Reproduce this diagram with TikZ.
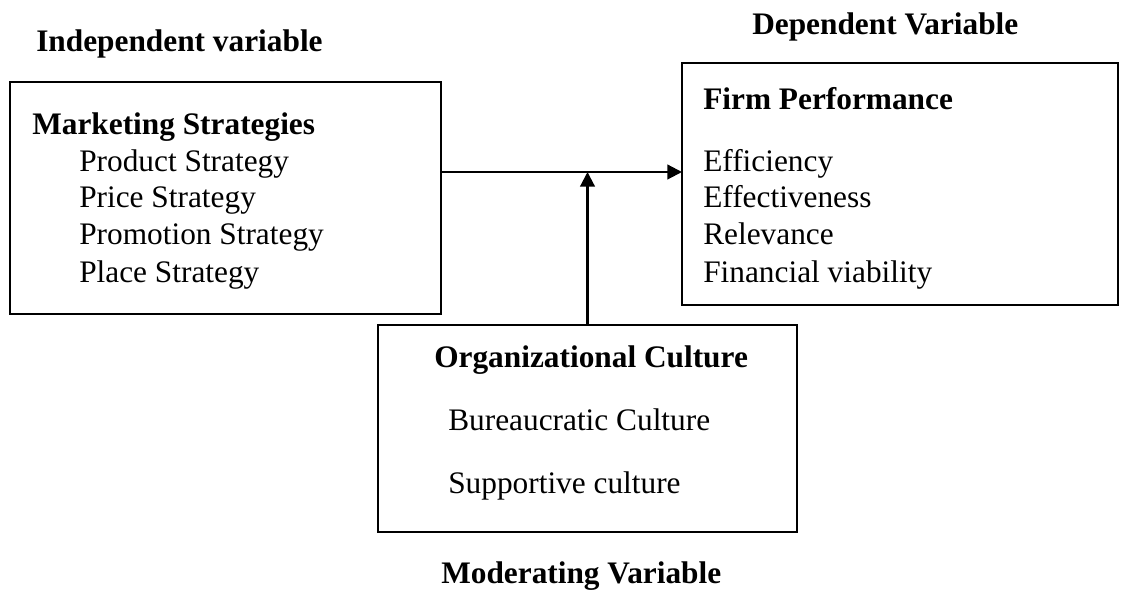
\documentclass[tikz,border=0pt]{standalone}
\usepackage{fontspec}
\setmainfont{Liberation Serif}
\usetikzlibrary{arrows.meta}
\begin{document}
\begin{tikzpicture}[x=0.75pt,y=-0.75pt,
  box/.style={draw,line width=1.6pt,inner sep=0pt,outer sep=0pt,rectangle},
  txt/.style={anchor=base west,inner sep=0pt,font=\fontsize{23.5}{28}\selectfont},
  head/.style={txt,font=\fontsize{23.5}{28}\selectfont\bfseries},
  link/.style={line width=1.6pt,-{Triangle[length=11pt,width=11pt]}}]
\clip (0,0) rectangle (1123,591);
\useasboundingbox (0,0) rectangle (1123,591);

% variable headings
\node[head] (hind) at (36,52) {Independent variable};
\node[head] (hdep) at (752,35) {Dependent Variable};
\node[head] (hmod) at (441,583) {Moderating Variable};

% boxes
\node[box,minimum width=323.25pt,minimum height=174pt] (ms) at (225.5,198) {};
\node[box,minimum width=327pt,minimum height=181.5pt] (fp) at (900,184) {};
\node[box,minimum width=314.25pt,minimum height=155.25pt] (oc) at (587.5,428.5) {};

% independent variable
\node[head] (mst) at (32,135) {Marketing Strategies};
\node[txt] (m1) at (79,172) {Product Strategy};
\node[txt] (m2) at (79,208) {Price Strategy};
\node[txt] (m3) at (79,245) {Promotion Strategy};
\node[txt] (m4) at (79,282) {Place Strategy};

% dependent variable
\node[head] (fpt) at (703,110) {Firm Performance};
\node[txt] (f1) at (703,172) {Efficiency};
\node[txt] (f2) at (703,208) {Effectiveness};
\node[txt] (f3) at (703,245) {Relevance};
\node[txt] (f4) at (703,282) {Financial viability};

% moderating variable
\node[head] (oct) at (434,367) {Organizational Culture};
\node[txt] (o1) at (448,430) {Bureaucratic Culture};
\node[txt] (o2) at (448,493) {Supportive culture};

% connectors
\coordinate (j) at (oc.north |- 0,172);
\draw[link] (ms.east |- j) -- (fp.west |- j);
\draw[link] (oc.north) -- (j);
\end{tikzpicture}
\end{document}
